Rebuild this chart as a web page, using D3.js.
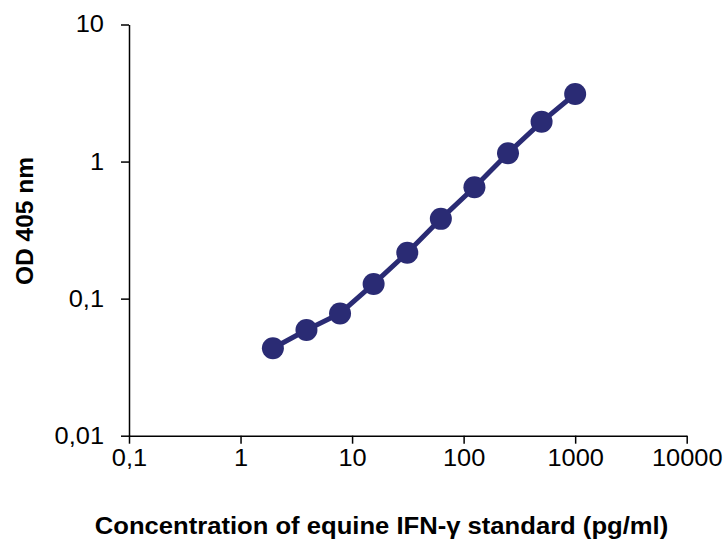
<!DOCTYPE html>
<html>
<head>
<meta charset="utf-8">
<script src="https://cdn.jsdelivr.net/npm/d3@7"></script>
<style>
  body { margin: 0; background: #fff; }
  text { font-family: Arial, "Liberation Sans", sans-serif; }
</style>
</head>
<body>
<div id="chart"></div>
<script>
// standard curve, 2-fold dilutions
var conc = [1.95, 3.9, 7.8, 15.6, 31.25, 62.5, 125, 250, 500, 1000];
var od = [0.0435, 0.059, 0.078, 0.128, 0.216, 0.382, 0.65, 1.15, 1.95, 3.11];

var xTicks = [0.1, 1, 10, 100, 1000, 10000];
var yTicks = [0.01, 0.1, 1, 10];

var data = conc.map(function (c, i) { return {X: c, Y: od[i]}; });

var W = 728, H = 542;
var color = "#2a2b74";

var svg = d3.select("#chart")
  .append("svg")
  .attr("width", W)
  .attr("height", H);

var xScale = d3.scaleLog()
  .domain([0.1, 10000])
  .range([129, 686.7]);

var yScale = d3.scaleLog()
  .domain([0.01, 10])
  .range([435.7, 24.5]);

function fmt(d) { return String(d).replace(".", ","); }

// stretch text a bit horizontally, like the original
function stretch(sel, k) {
  sel.each(function () {
    var len = this.getComputedTextLength();
    d3.select(this)
      .attr("textLength", len * k)
      .attr("lengthAdjust", "spacingAndGlyphs");
  });
}

// x axis
var gx = svg.append("g")
  .attr("transform", "translate(0,435.7)")
  .call(d3.axisBottom(xScale).tickValues(xTicks).tickFormat(fmt).tickSize(8).tickPadding(6).tickSizeOuter(0));
gx.select(".domain").attr("stroke-width", 1.5);
gx.selectAll(".tick line").attr("stroke-width", 1.5);
gx.selectAll(".tick text")
  .attr("font-size", "23.3px")
  .attr("fill", "#000")
  .attr("dy", "0.71em")
  .call(stretch, 1.09);

// y axis
var gy = svg.append("g")
  .attr("transform", "translate(129,0)")
  .call(d3.axisLeft(yScale).tickValues(yTicks).tickFormat(fmt).tickSize(8).tickPadding(17).tickSizeOuter(0));
gy.select(".domain").attr("stroke-width", 1.5);
gy.selectAll(".tick line").attr("stroke-width", 1.5);
gy.selectAll(".tick text")
  .attr("font-size", "23.3px")
  .attr("fill", "#000")
  .call(stretch, 1.09);

// axis titles
svg.append("text")
  .attr("x", 381.5)
  .attr("y", 534.3)
  .attr("text-anchor", "middle")
  .attr("font-size", "23.5px")
  .attr("font-weight", "bold")
  .text("Concentration of equine IFN-\u03b3 standard (pg/ml)")
  .call(stretch, 1.09);

svg.append("text")
  .attr("transform", "translate(33,221) rotate(-90)")
  .attr("text-anchor", "middle")
  .attr("font-size", "24px")
  .attr("font-weight", "bold")
  .text("OD 405 nm")
  .call(stretch, 1.02);

// curve
var line = d3.line()
  .x(function (d) { return xScale(d.X); })
  .y(function (d) { return yScale(d.Y); });

svg.append("path")
  .datum(data)
  .attr("d", line)
  .attr("fill", "none")
  .attr("stroke", color)
  .attr("stroke-width", 5);

svg.append("g")
  .selectAll("circle")
  .data(data)
  .enter()
  .append("circle")
    .attr("cx", function (d) { return xScale(d.X); })
    .attr("cy", function (d) { return yScale(d.Y); })
    .attr("r", 11)
    .style("fill", color);
</script>
</body>
</html>
